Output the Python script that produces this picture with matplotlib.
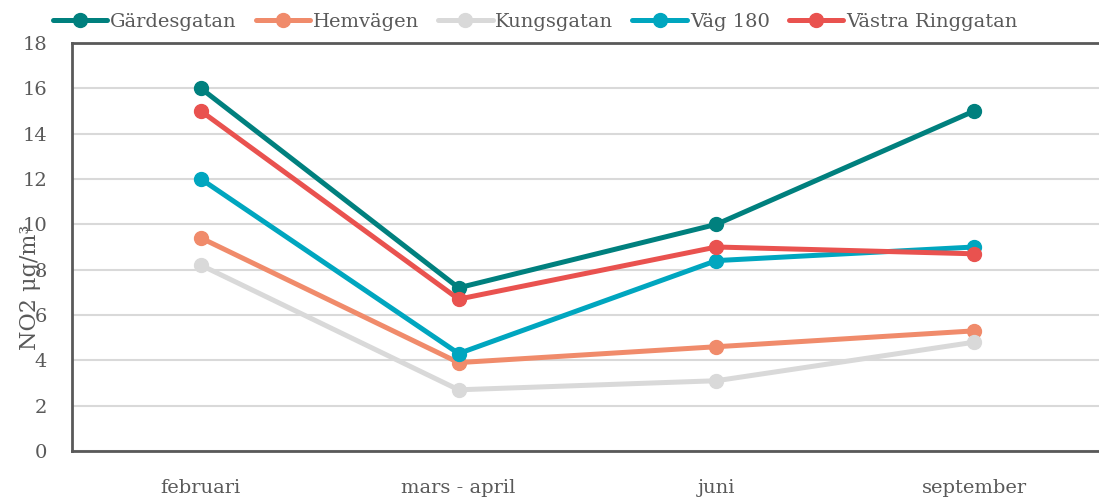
import matplotlib
matplotlib.use("Agg")
import matplotlib.pyplot as plt

categories = ["februari", "mars - april", "juni", "september"]
gardesgatan = [16.0, 7.2, 10.0, 15.0]
hemvagen = [9.4, 3.9, 4.6, 5.3]
kungsgatan = [8.2, 2.7, 3.1, 4.8]
vag180 = [12.0, 4.3, 8.4, 9.0]
vastra = [15.0, 6.7, 9.0, 8.7]
yticks = [0, 2, 4, 6, 8, 10, 12, 14, 16, 18]

series = [
    ("Gärdesgatan", gardesgatan, "#00807E"),
    ("Hemvägen", hemvagen, "#F08B6B"),
    ("Kungsgatan", kungsgatan, "#D9D9D9"),
    ("Väg 180", vag180, "#00A6BF"),
    ("Västra Ringgatan", vastra, "#E9524F"),
]

plt.rcParams['font.family'] = ['DejaVu Serif']
txt = "#595959"
W, H = 1099, 499
fig = plt.figure(figsize=(W / 100, H / 100), dpi=100)
ax = fig.add_axes([72 / W, 48 / H, (1103 - 72) / W, 408 / H])

x = list(range(len(categories)))
order = [2, 1, 3, 4, 0]
handles = {}
for i in order:
    name, vals, col = series[i]
    ln, = ax.plot(x, vals, color=col, lw=3.6, marker="o", ms=10,
                  solid_capstyle="round", label=name, zorder=3 + i * 0.1)
    handles[i] = ln

ax.set_xlim(-0.5, 3.5)
ax.set_ylim(0, 18)
ax.set_yticks(yticks)
ax.set_xticks(x)
ax.set_xticklabels(categories)
ax.grid(axis="y", color="#D9D9D9", lw=1.5, zorder=0)
ax.set_axisbelow(True)
for s in ["left", "top", "bottom"]:
    ax.spines[s].set_color("#595959")
    ax.spines[s].set_linewidth(2)
ax.spines["right"].set_visible(False)
ax.tick_params(axis="both", length=0, labelsize=14, labelcolor=txt)
ax.tick_params(axis="y", pad=18)
ax.tick_params(axis="x", pad=20)

fig.text(30 / W, 1 - 287 / H, "NO2 μg/m³", rotation=90, ha="center",
         va="center", fontsize=16, color=txt)

fig.legend([handles[i] for i in range(5)], [s[0] for s in series],
           loc="center", bbox_to_anchor=(535 / W, 1 - 22 / H), ncol=5,
           frameon=False, fontsize=14, labelcolor=txt, handlelength=2.8,
           handletextpad=0.15, columnspacing=0.97, borderpad=0)

fig.savefig("out.png", dpi=100)
